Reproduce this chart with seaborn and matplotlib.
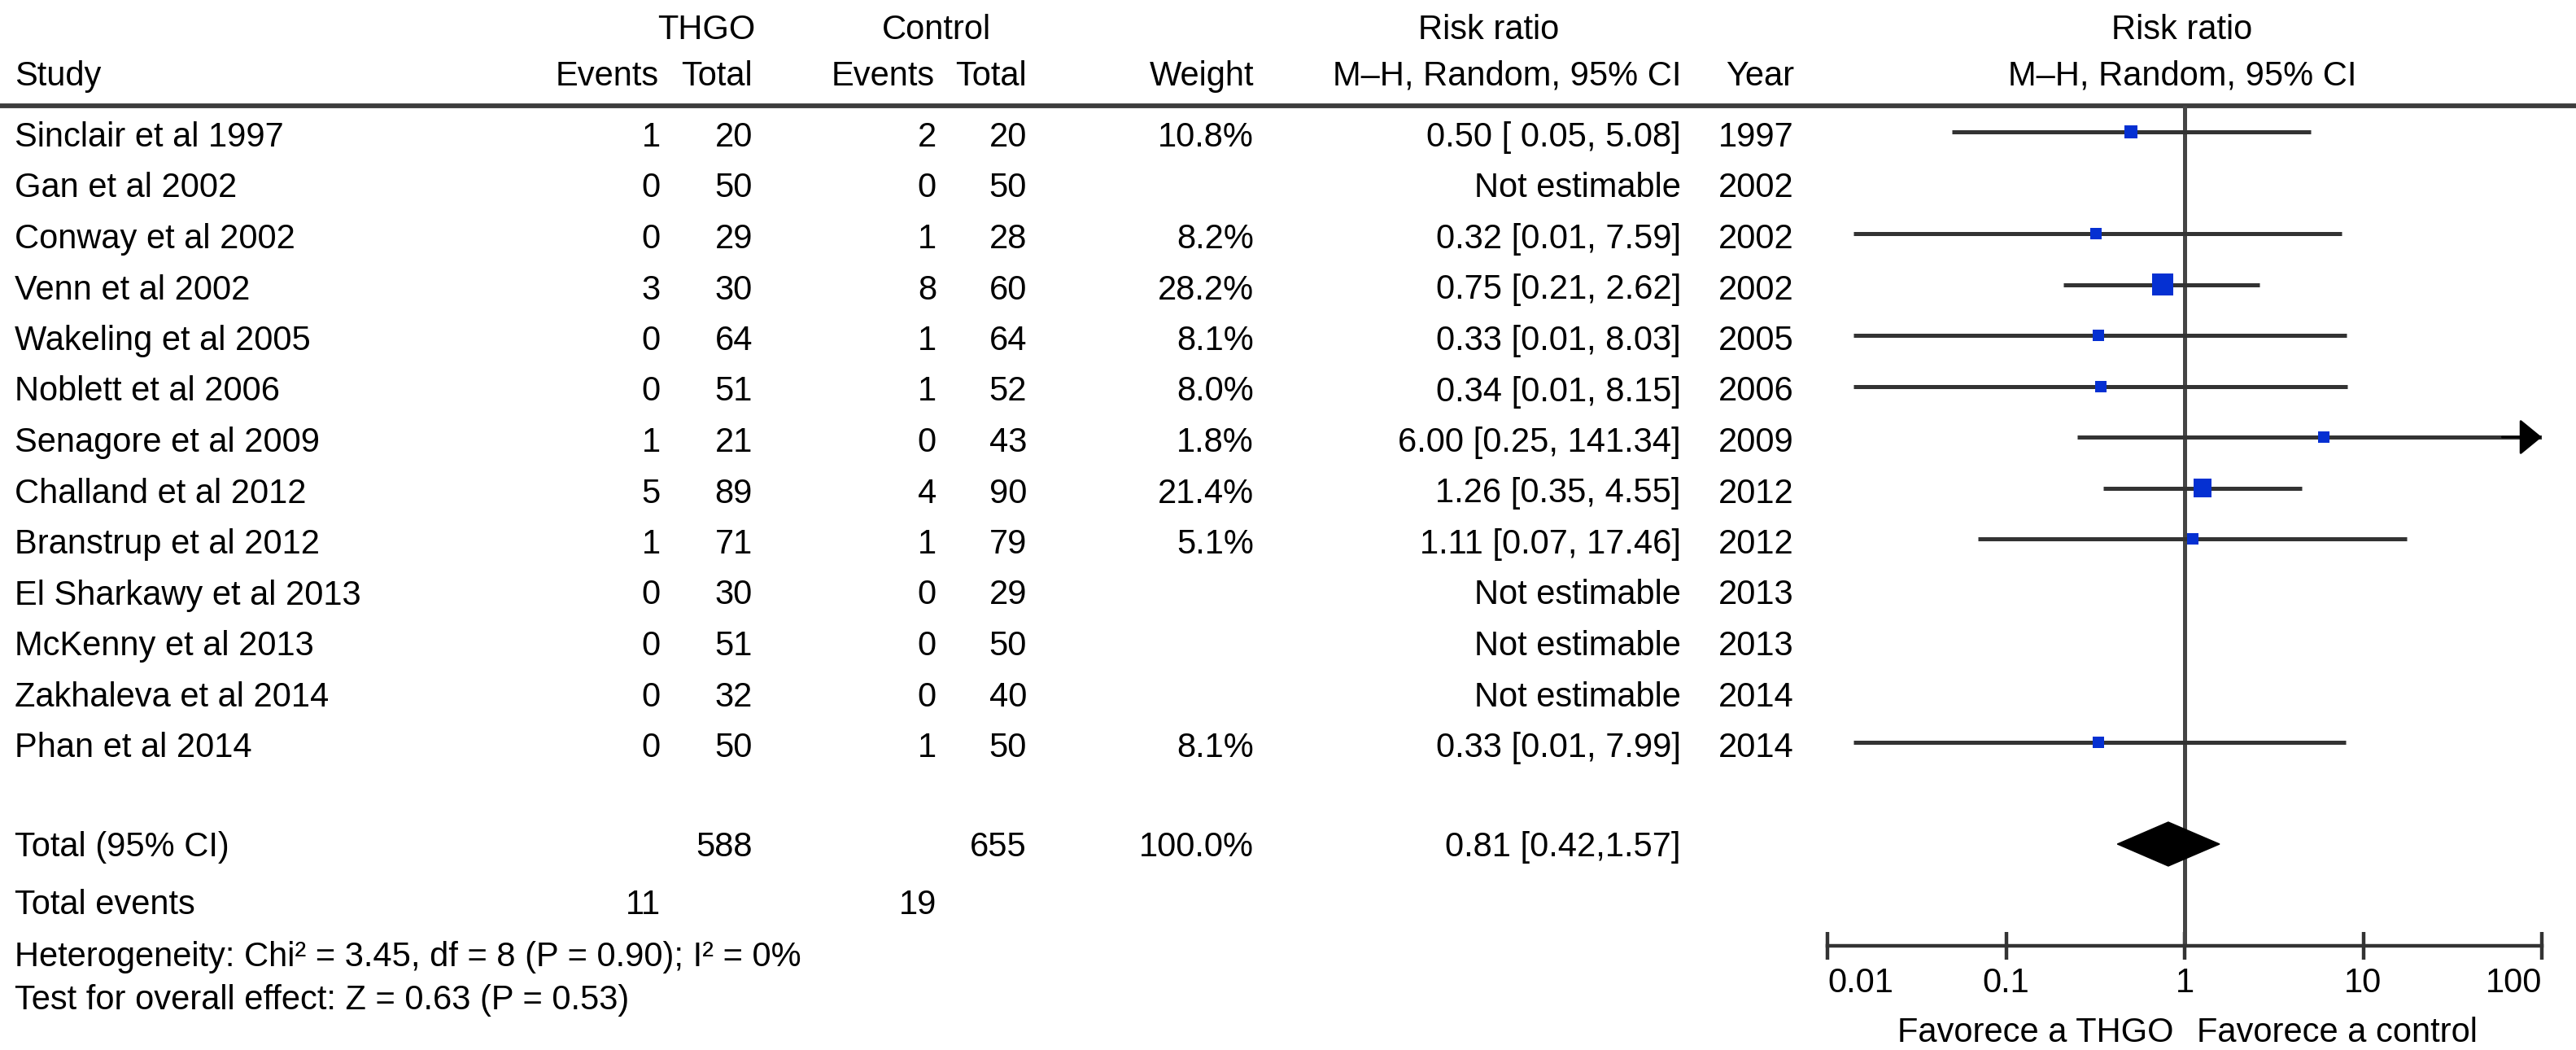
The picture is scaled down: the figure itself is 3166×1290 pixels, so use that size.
import numpy as np
import pandas as pd
import matplotlib
matplotlib.use("Agg")
import matplotlib.pyplot as plt
import seaborn as sns

# data
studies = ["Sinclair et al 1997", "Gan et al 2002", "Conway et al 2002", "Venn et al 2002",
           "Wakeling et al 2005", "Noblett et al 2006", "Senagore et al 2009",
           "Challand et al 2012", "Branstrup et al 2012", "El Sharkawy et al 2013",
           "McKenny et al 2013", "Zakhaleva et al 2014", "Phan et al 2014"]
years = [1997, 2002, 2002, 2002, 2005, 2006, 2009, 2012, 2012, 2013, 2013, 2014, 2014]
thgo_events = [1, 0, 0, 3, 0, 0, 1, 5, 1, 0, 0, 0, 0]
thgo_total = [20, 50, 29, 30, 64, 51, 21, 89, 71, 30, 51, 32, 50]
ctrl_events = [2, 0, 1, 8, 1, 1, 0, 4, 1, 0, 0, 0, 1]
ctrl_total = [20, 50, 28, 60, 64, 52, 43, 90, 79, 29, 50, 40, 50]
weights = [10.8, np.nan, 8.2, 28.2, 8.1, 8.0, 1.8, 21.4, 5.1, np.nan, np.nan, np.nan, 8.1]
rr = [0.50, np.nan, 0.32, 0.75, 0.33, 0.34, 6.00, 1.26, 1.11, np.nan, np.nan, np.nan, 0.33]
ci_lo = [0.05, np.nan, 0.014, 0.21, 0.014, 0.014, 0.25, 0.35, 0.07, np.nan, np.nan, np.nan, 0.014]
ci_hi = [5.08, np.nan, 7.59, 2.62, 8.03, 8.15, 141.34, 4.55, 17.46, np.nan, np.nan, np.nan, 7.99]
ci_text = ["0.50 [ 0.05, 5.08]", "Not estimable", "0.32 [0.01, 7.59]", "0.75 [0.21, 2.62]",
           "0.33 [0.01, 8.03]", "0.34 [0.01, 8.15]", "6.00 [0.25, 141.34]", "1.26 [0.35, 4.55]",
           "1.11 [0.07, 17.46]", "Not estimable", "Not estimable", "Not estimable",
           "0.33 [0.01, 7.99]"]
total_rr, total_lo, total_hi = 0.81, 0.42, 1.57
total_n = [588, 655]
total_ev = [11, 19]
tick_vals = [0.01, 0.1, 1, 10, 100]
tick_labels = ["0.01", "0.1", "1", "10", "100"]

sns.set_theme(style="white")
plt.rcParams['font.family'] = ['Liberation Sans Narrow', 'Liberation Sans', 'DejaVu Sans']
FS = 30

W, H = 3166, 1290
fig = plt.figure(figsize=(W / 100, H / 100), dpi=100)
tab = fig.add_axes([0, 0, 1, 1])
tab.set_xlim(0, W)
tab.set_ylim(H, 0)
tab.axis("off")

row_y = 162 + 62.5 * np.arange(len(studies))
total_y = 162 + 62.5 * 14

def txt(x, y, s, ha="right"):
    tab.text(x, y, s, ha=ha, va="baseline", fontsize=FS, color="black")

# header
txt(868, 48, "THGO", "center")
txt(1151, 48, "Control", "center")
txt(1830, 48, "Risk ratio", "center")
txt(2682, 48, "Risk ratio", "center")
txt(18, 105, "Study", "left")
txt(810, 105, "Events")
txt(925, 105, "Total")
txt(1149, 105, "Events")
txt(1262, 105, "Total")
txt(1541, 105, "Weight")
txt(2066, 105, "M\u2013H, Random, 95% CI")
txt(2205, 105, "Year")
txt(2682, 105, "M\u2013H, Random, 95% CI", "center")
tab.axhline(130, color="#3c3c3c", lw=4.2)

for i, name in enumerate(studies):
    b = row_y[i] + 18
    txt(18, b, name, "left")
    txt(812, b, str(thgo_events[i]))
    txt(925, b, str(thgo_total[i]))
    txt(1151, b, str(ctrl_events[i]))
    txt(1262, b, str(ctrl_total[i]))
    if not np.isnan(weights[i]):
        txt(1541, b, f"{weights[i]:.1f}%")
    txt(2066, b, ci_text[i])
    txt(2205, b, str(years[i]))

b = total_y + 15
txt(18, b, "Total (95% CI)", "left")
txt(925, b, str(total_n[0]))
txt(1262, b, str(total_n[1]))
txt(1541, b, "100.0%")
txt(2066, b, f"{total_rr:.2f} [{total_lo:.2f},{total_hi:.2f}]")
txt(18, 1123, "Total events", "left")
txt(812, 1123, str(total_ev[0]))
txt(1151, 1123, str(total_ev[1]))
txt(18, 1187, "Heterogeneity: Chi\u00b2 = 3.45, df = 8 (P = 0.90); I\u00b2 = 0%", "left")
txt(18, 1240, "Test for overall effect: Z = 0.63 (P = 0.53)", "left")
txt(2672, 1280, "Favorece a THGO")
txt(2700, 1280, "Favorece a control", "left")

# forest panel
x0, x1, ytop, ybot = 2246, 3124, 130, 1162
fax = fig.add_axes([x0 / W, 1 - ybot / H, (x1 - x0) / W, (ybot - ytop) / H])
fax.set_xscale("log")
fax.set_xlim(0.01, 100)
fax.set_ylim(ybot, ytop)
fax.patch.set_alpha(0)
for s in ["top", "left", "right"]:
    fax.spines[s].set_visible(False)
fax.spines["bottom"].set_color("#333333")
fax.spines["bottom"].set_linewidth(3.2)
fax.set_yticks([])
fax.set_xticks(tick_vals)
fax.set_xticklabels(tick_labels)
fax.minorticks_off()
fax.tick_params(axis="x", direction="inout", length=24, width=3.2, color="#333333",
                pad=7, labelsize=FS, labelcolor="black", bottom=True)
lbls = fax.get_xticklabels()
lbls[0].set_ha("left")
lbls[-1].set_ha("right")

fax.axvline(1, color="#454545", lw=3.6, zorder=1)

df = pd.DataFrame({"rr": rr, "lo": ci_lo, "hi": ci_hi, "w": weights, "y": row_y}).dropna()
fax.hlines(df["y"], df["lo"], df["hi"].clip(upper=100), color="#333333", lw=3.6, zorder=2)
for _, r in df[df["hi"] > 100].iterrows():
    fax.annotate("", xy=(100, r["y"]), xytext=(60, r["y"]),
                 arrowprops=dict(arrowstyle="-|>,head_length=0.55,head_width=0.45",
                                 color="black", lw=2, mutation_scale=31, shrinkA=0, shrinkB=0),
                 annotation_clip=False)

# square side in px grows with weight, with a minimum size
side_px = np.maximum(14, np.sqrt(24 * df["w"]))
df["area"] = (side_px * 0.72) ** 2
sns.scatterplot(data=df, x="rr", y="y", size="area", sizes=(df["area"].min(), df["area"].max()),
                size_norm=(df["area"].min(), df["area"].max()), marker="s", color="#0530d2",
                edgecolor="none", legend=False, ax=fax, zorder=3)
fax.set_xlabel("")
fax.set_ylabel("")

dh = 27
fax.fill([total_lo, total_rr, total_hi, total_rr],
         [total_y, total_y - dh, total_y, total_y + dh], color="black", zorder=3)

fig.savefig("out.png", dpi=100)
